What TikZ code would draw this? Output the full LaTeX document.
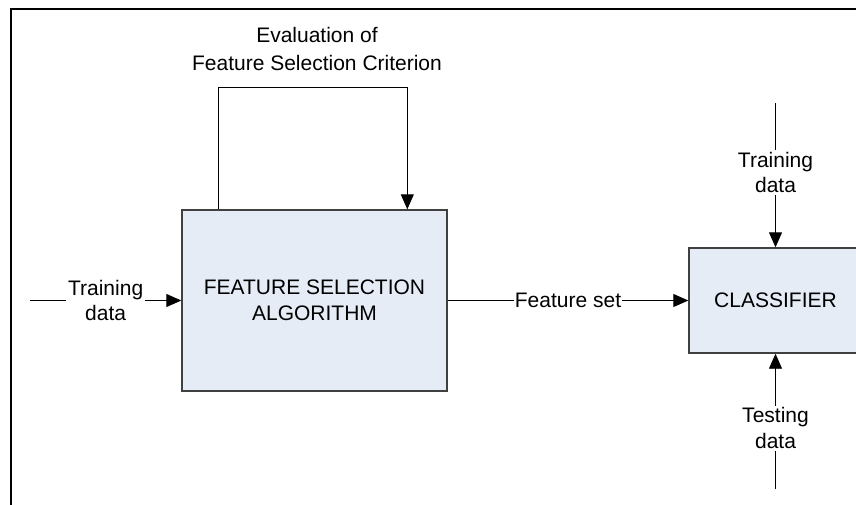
\documentclass[tikz,border=0pt]{standalone}
\usepackage{fontspec}
\setmainfont{Liberation Sans}
\usetikzlibrary{arrows.meta}
\definecolor{boxfill}{HTML}{E5ECF6}
\begin{document}
\begin{tikzpicture}[x=1pt,y=-1pt,
  every node/.style={font=\fontsize{21}{25.5}\selectfont, align=center},
  blockbox/.style={draw=black!75, line width=1.4pt, fill=boxfill, inner sep=0pt},
  lbl/.style={fill=white, inner sep=2pt},
  flow/.style={line width=0.9pt, -{Triangle[length=15pt,width=13pt]}}]
\useasboundingbox (0,0) rectangle (856,504);
\clip (0,0) rectangle (856,504);
\fill[white] (0,0) rectangle (856,504);
% outer frame (runs off the right and bottom edges)
\draw[line width=2.5pt] (11,530) |- (890,9);

% blocks
\node[blockbox, minimum width=265pt, minimum height=181pt] (fsa) at (314.5,300.5)
  {FEATURE SELECTION\\ALGORITHM};
\node[blockbox, minimum width=173pt, minimum height=105pt] (cls) at (775.5,300.5)
  {CLASSIFIER};

% free ends of the input lines
\coordinate (in) at (30,300.5);
\coordinate (ctop) at (775.5,103);
\coordinate (cbot) at (775.5,489);
\coordinate (looptop) at (0,87);
\coordinate (loopout) at ([xshift=37pt]fsa.north west);
\coordinate (loopin) at ([xshift=226pt]fsa.north west);

% connectors
\draw[flow] (in) -- node[lbl] {Training\\data} (fsa.west);
\draw[flow] (fsa.east) -- node[lbl, inner sep=1pt] {Feature set} (cls.west);
\draw[flow] (ctop) -- node[lbl, pos=0.48] {Training\\data} (cls.north);
\draw[flow] (cbot) -- node[lbl, pos=0.45] {Testing\\data} (cls.south);
\draw[flow] (loopout) -- (loopout |- looptop) -| (loopin);

\node[font=\fontsize{21}{28}\selectfont] (evallbl) at (317,49)
  {Evaluation of\\Feature Selection Criterion};
\end{tikzpicture}
\end{document}
